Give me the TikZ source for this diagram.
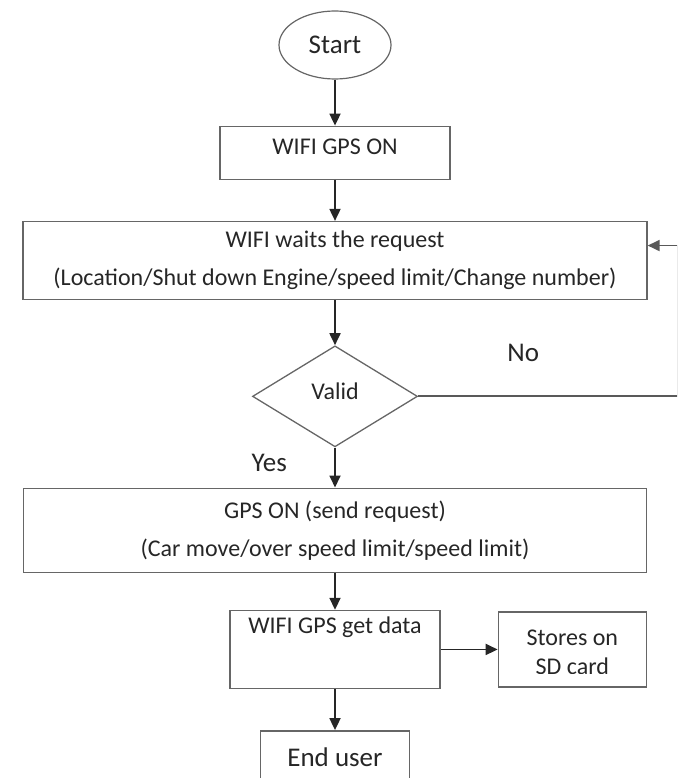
\documentclass[tikz,border=0pt]{standalone}
\usepackage{fontspec}
\setmainfont{Carlito}
\usetikzlibrary{positioning,shapes.geometric,arrows.meta}

\begin{document}
\begin{tikzpicture}[
            x=1pt,y=-1pt,
            node distance=40pt,
            every node/.append style={inner sep=0pt,text=black!85,font=\fontsize{24}{38}\selectfont},
            proc/.style={draw=black!60,line width=1.3pt,align=center},
            dec/.style={diamond,draw=black!60,line width=1.3pt,minimum width=165pt,minimum height=101pt},
            term/.style={ellipse,draw=black!60,line width=1.2pt,minimum width=112pt,minimum height=68pt,font=\fontsize{27}{30}\selectfont},
            flow/.style={draw=black!85,line width=1.8pt,-{Triangle[length=12pt,width=11pt]}},
            lbl/.style={font=\fontsize{27}{30}\selectfont}
        ]
            \clip (0,0) rectangle (677,778);
            \node (start) [term] at (335,45) {Start};
            \node (gpson)   [proc,below=46pt of start,minimum width=230pt,minimum height=53pt,text depth=12pt] {WIFI GPS ON};
            \node (wait)    [proc,below=41pt of gpson,minimum width=624pt,minimum height=78pt]
                {WIFI waits the request\\(Location/Shut down Engine/speed limit/Change number)};
            \node (valid)   [dec,below=45pt of wait,text depth=10pt] {Valid};
            \node (send)    [proc,below=40pt of valid,minimum width=623pt,minimum height=84pt]
                {GPS ON (send request)\\(Car move/over speed limit/speed limit)};
            \node (getdata) [proc,below=37pt of send,minimum width=210pt,minimum height=78pt] {WIFI GPS get data\\\strut};
            \node (store)   [proc,right=57pt of getdata,minimum width=148pt,minimum height=75pt] {};
            \node (user)    [proc,below=41pt of getdata,minimum width=149pt,minimum height=92pt,line width=1.8pt,font=\fontsize{27}{30}\selectfont] {End user\\\strut};
            \node (no)  [lbl,above right=34pt and 89pt of valid.east] {No};
            \node (yes) [lbl,below left=6pt and 48pt of valid.south] {Yes};
            \begin{scope}
                \clip ([yshift=14.5pt]store.south west) rectangle (store.north east);
                \node (storetext) [align=center,font=\fontsize{24}{29}\selectfont] at ([yshift=-3pt]store.center) {Stores on\\SD card};
            \end{scope}
            \coordinate (corner) at ([xshift=260pt]valid.east);
            \draw[flow] (start) -- (gpson);
            \draw[flow] (gpson) -- (wait);
            \draw[flow] (wait) -- (valid);
            \draw[flow] (valid) -- (send);
            \draw[flow] (send) -- (getdata);
            \draw[flow] (getdata.east) -- (getdata.east -| store.west);
            \draw[flow] (getdata) -- (user);
            \draw[flow,draw=black!65] (valid.east) -- (corner) |- ([yshift=15pt]wait.east);
        \end{tikzpicture}
\end{document}
